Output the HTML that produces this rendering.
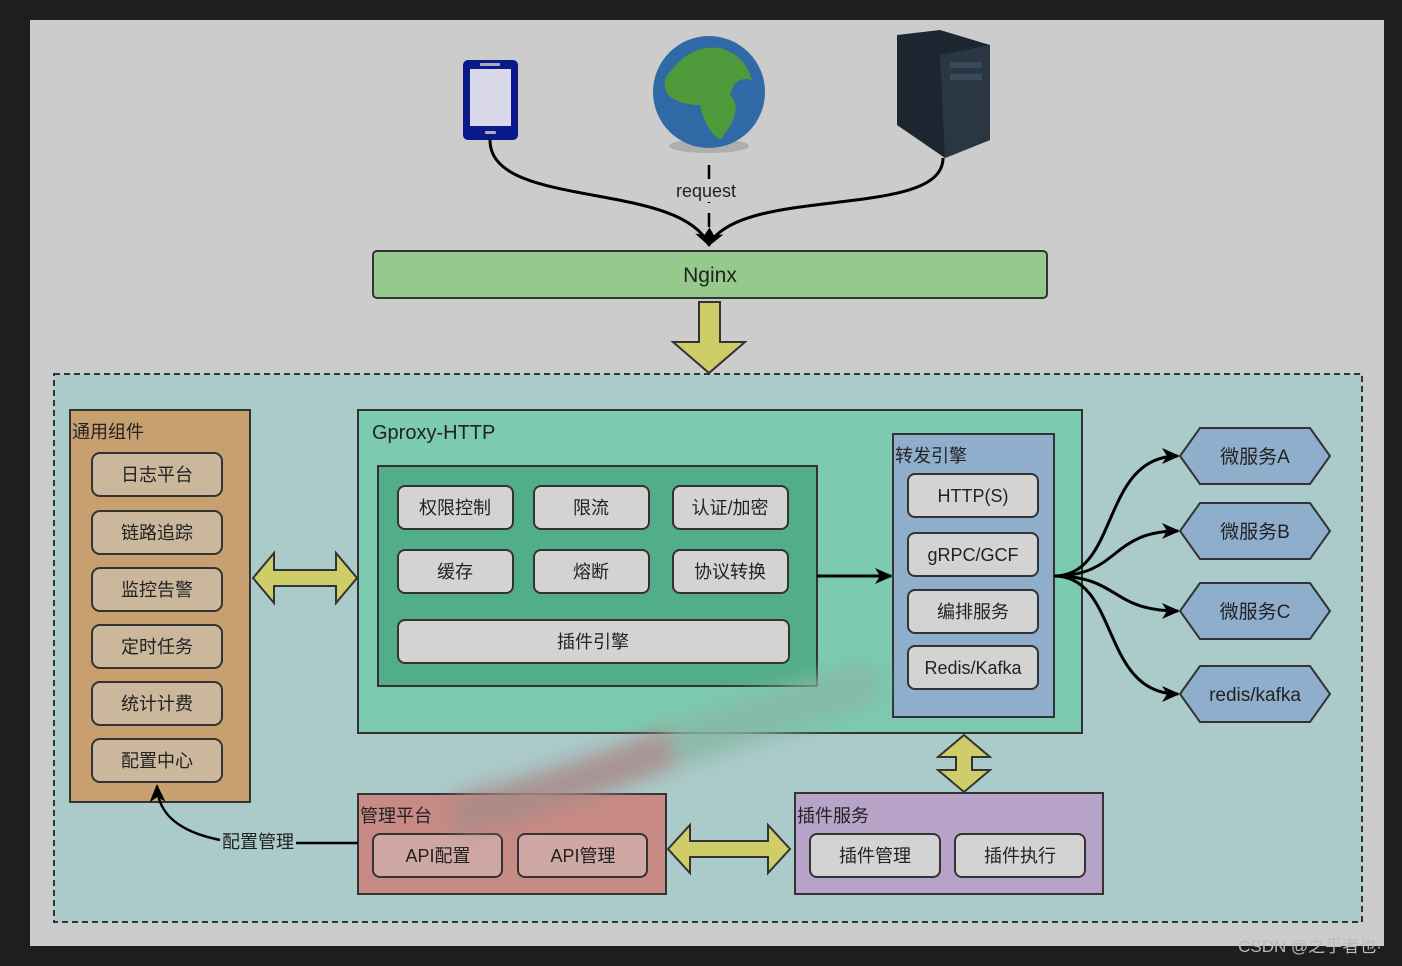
<!DOCTYPE html>
<html><head><meta charset="utf-8"><style>
html,body{margin:0;padding:0;background:#1e1e1e;}
svg{display:block;}
text{font-family:"Liberation Sans","Noto Sans CJK SC",sans-serif;fill:#222;}
</style></head><body>
<svg width="1402" height="966" viewBox="0 0 1402 966" xmlns="http://www.w3.org/2000/svg">
<defs>
<marker id="ah2" markerWidth="18" markerHeight="18" refX="16" refY="9" orient="auto" markerUnits="userSpaceOnUse" viewBox="0 0 18 18"><path d="M0,1 L18,9 L0,17 L5,9 Z" fill="#000"/></marker>
<filter id="bl" x="-50%" y="-50%" width="200%" height="200%" filterUnits="objectBoundingBox"><feGaussianBlur stdDeviation="10"/></filter>
</defs>
<rect x="0" y="0" width="1402" height="966" fill="#1e1e1e"/>
<rect x="30" y="20" width="1354" height="926" fill="#cccccc"/>
<!-- top icons -->
<rect x="463" y="60" width="55" height="80" rx="5" fill="#0a1a8a"/>
<rect x="470" y="69" width="41" height="57" fill="#d8d8e8"/>
<rect x="480" y="63" width="20" height="3" fill="#aab" rx="1"/>
<rect x="485" y="131" width="11" height="3" fill="#aab" rx="1"/>
<ellipse cx="709" cy="146" rx="40" ry="7" fill="#999" opacity="0.6"/>
<circle cx="709" cy="92" r="56" fill="#2f6aa6"/>
<path d="M672,70 Q690,45 720,48 Q745,55 752,80 Q735,75 730,95 Q745,110 720,140 Q705,130 700,105 Q680,105 668,95 Q660,80 672,70Z" fill="#4e9a3a"/>
<path d="M897,35 L940,30 L990,45 L990,140 L945,158 L897,125 Z" fill="#1d2630"/>
<path d="M940,55 L990,45 L990,140 L945,158 Z" fill="#2a3642"/>
<rect x="950" y="62" width="32" height="6" fill="#3b4a58"/>
<rect x="950" y="74" width="32" height="6" fill="#3b4a58"/>
<!-- request connectors -->
<path d="M490,140 C490,210 680,180 709,245" fill="none" stroke="#000" stroke-width="3" marker-end="url(#ah2)"/>
<path d="M943,158 C943,220 740,185 709,245" fill="none" stroke="#000" stroke-width="3" marker-end="url(#ah2)"/>
<line x1="709" y1="165" x2="709" y2="245" stroke="#000" stroke-width="2.5" stroke-dasharray="14,10"/>
<rect x="672" y="180" width="70" height="22" fill="#cccccc"/>
<text x="706" y="197" font-size="18" text-anchor="middle">request</text>
<!-- nginx -->
<rect x="373" y="251" width="674" height="47" rx="4" fill="#96c98c" stroke="#333" stroke-width="2"/>
<text x="710" y="282" font-size="21" text-anchor="middle">Nginx</text>
<path d="M699,302 L720,302 L720,342 L745,342 L709,373 L673,342 L699,342 Z" fill="#cfcc6a" stroke="#333" stroke-width="2"/>
<!-- dashed region -->
<rect x="54" y="374" width="1308" height="548" fill="#abcaca" stroke="#333" stroke-width="2" stroke-dasharray="6,4"/>
<!-- left common -->
<rect x="70" y="410" width="180" height="392" fill="#c8a070" stroke="#333" stroke-width="2"/>
<text x="72" y="438" font-size="18">通用组件</text>
<g fill="#cbb79c" stroke="#333" stroke-width="2">
<rect x="92" y="453" width="130" height="43" rx="8"/><rect x="92" y="511" width="130" height="43" rx="8"/>
<rect x="92" y="568" width="130" height="43" rx="8"/><rect x="92" y="625" width="130" height="43" rx="8"/>
<rect x="92" y="682" width="130" height="43" rx="8"/><rect x="92" y="739" width="130" height="43" rx="8"/>
</g>
<g font-size="18" text-anchor="middle">
<text x="157" y="481">日志平台</text><text x="157" y="539">链路追踪</text><text x="157" y="596">监控告警</text>
<text x="157" y="653">定时任务</text><text x="157" y="710">统计计费</text><text x="157" y="767">配置中心</text>
</g>
<path d="M253,578 L274,553 L274,570 L336,570 L336,553 L357,578 L336,603 L336,586 L274,586 L274,603 Z" fill="#cfcc6a" stroke="#333" stroke-width="2"/>
<!-- gproxy -->
<rect x="358" y="410" width="724" height="323" fill="#7ccab0" stroke="#333" stroke-width="2"/>
<text x="372" y="439" font-size="20">Gproxy-HTTP</text>
<rect x="378" y="466" width="439" height="220" fill="#52ae88" stroke="#333" stroke-width="2"/>
<g fill="#d3d3d3" stroke="#333" stroke-width="2">
<rect x="398" y="486" width="115" height="43" rx="7"/><rect x="534" y="486" width="115" height="43" rx="7"/><rect x="673" y="486" width="115" height="43" rx="7"/>
<rect x="398" y="550" width="115" height="43" rx="7"/><rect x="534" y="550" width="115" height="43" rx="7"/><rect x="673" y="550" width="115" height="43" rx="7"/>
<rect x="398" y="620" width="391" height="43" rx="7"/>
</g>
<g font-size="18" text-anchor="middle">
<text x="455" y="514">权限控制</text><text x="591" y="514">限流</text><text x="730" y="514">认证/加密</text>
<text x="455" y="578">缓存</text><text x="591" y="578">熔断</text><text x="730" y="578">协议转换</text>
<text x="593" y="648">插件引擎</text>
</g>
<line x1="817" y1="576" x2="891" y2="576" stroke="#000" stroke-width="3" marker-end="url(#ah2)"/>
<!-- forward engine -->
<rect x="893" y="434" width="161" height="283" fill="#8eaecc" stroke="#333" stroke-width="2"/>
<text x="895" y="462" font-size="18">转发引擎</text>
<g fill="#d3d3d3" stroke="#333" stroke-width="2">
<rect x="908" y="474" width="130" height="43" rx="7"/><rect x="908" y="533" width="130" height="43" rx="7"/>
<rect x="908" y="590" width="130" height="43" rx="7"/><rect x="908" y="646" width="130" height="43" rx="7"/>
</g>
<g font-size="18" text-anchor="middle">
<text x="973" y="502">HTTP(S)</text><text x="973" y="561">gRPC/GCF</text><text x="973" y="618">编排服务</text><text x="973" y="674">Redis/Kafka</text>
</g>
<g fill="none" stroke="#000" stroke-width="3" marker-end="url(#ah2)">
<path d="M1054,576 C1120,576 1100,456 1178,456"/>
<path d="M1054,576 C1120,576 1110,531 1178,531"/>
<path d="M1054,576 C1120,576 1110,611 1178,611"/>
<path d="M1054,576 C1120,576 1100,694 1178,694"/>
</g>
<g fill="#8eaecc" stroke="#333" stroke-width="2">
<path d="M1180,456 L1200,428 L1310,428 L1330,456 L1310,484 L1200,484 Z"/>
<path d="M1180,531 L1200,503 L1310,503 L1330,531 L1310,559 L1200,559 Z"/>
<path d="M1180,611 L1200,583 L1310,583 L1330,611 L1310,639 L1200,639 Z"/>
<path d="M1180,694 L1200,666 L1310,666 L1330,694 L1310,722 L1200,722 Z"/>
</g>
<g font-size="19" text-anchor="middle">
<text x="1255" y="463">微服务A</text><text x="1255" y="538">微服务B</text><text x="1255" y="618">微服务C</text><text x="1255" y="701">redis/kafka</text>
</g>
<path d="M964,735 L990,757 L972,757 L972,770 L990,770 L964,792 L938,770 L956,770 L956,757 L938,757 Z" fill="#cfcc6a" stroke="#333" stroke-width="2"/>
<!-- management -->
<rect x="358" y="794" width="308" height="100" fill="#c78a84" stroke="#333" stroke-width="2"/>
<text x="360" y="822" font-size="18">管理平台</text>
<g fill="#cfa8a4" stroke="#333" stroke-width="2">
<rect x="373" y="834" width="129" height="43" rx="7"/><rect x="518" y="834" width="129" height="43" rx="7"/>
</g>
<g font-size="18" text-anchor="middle"><text x="438" y="862">API配置</text><text x="583" y="862">API管理</text></g>
<path d="M358,843 L296,843" stroke="#000" stroke-width="2.5" fill="none"/>
<path d="M220,840 C180,832 158,815 157,786" stroke="#000" stroke-width="2.5" fill="none" marker-end="url(#ah2)"/>
<text x="258" y="848" font-size="18" text-anchor="middle">配置管理</text>
<path d="M668,849 L690,825 L690,841 L768,841 L768,825 L790,849 L768,873 L768,857 L690,857 L690,873 Z" fill="#cfcc6a" stroke="#333" stroke-width="2"/>
<!-- plugin service -->
<rect x="795" y="793" width="308" height="101" fill="#b7a3c8" stroke="#333" stroke-width="2"/>
<text x="797" y="822" font-size="18">插件服务</text>
<g fill="#d3d3d3" stroke="#333" stroke-width="2">
<rect x="810" y="834" width="130" height="43" rx="7"/><rect x="955" y="834" width="130" height="43" rx="7"/>
</g>
<g font-size="18" text-anchor="middle"><text x="875" y="862">插件管理</text><text x="1020" y="862">插件执行</text></g>
<!-- smudge -->
<g filter="url(#bl)" opacity="0.85">
<path d="M470,812 C560,790 640,760 700,735" stroke="#a88a88" stroke-width="40" stroke-linecap="round" fill="none"/>
<path d="M690,740 C760,715 820,700 860,685" stroke="#86b8a4" stroke-width="45" stroke-linecap="round" fill="none"/>
</g>
<text x="1310" y="952" font-size="17" text-anchor="middle" style="fill:#bbb">CSDN @之乎者也·</text>
</svg>
</body></html>
